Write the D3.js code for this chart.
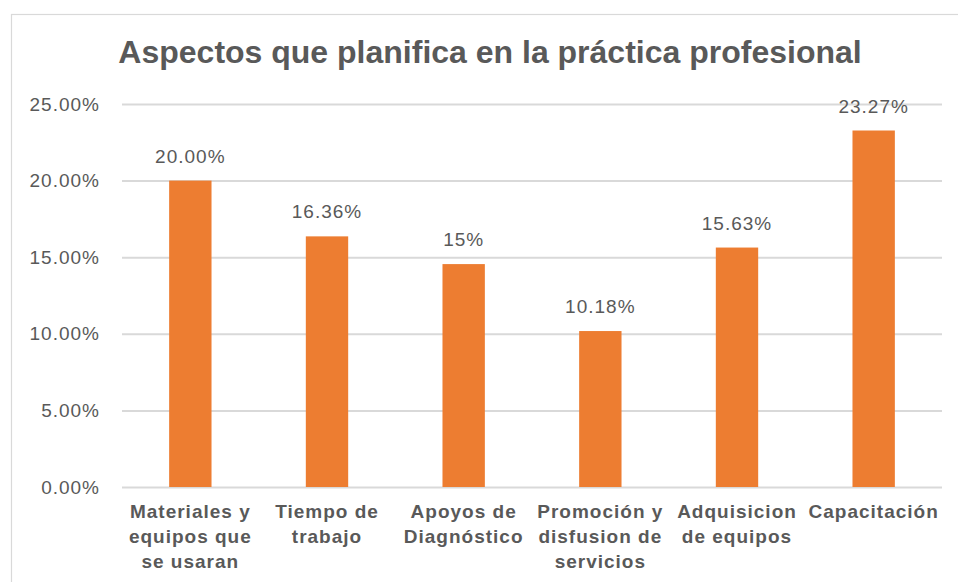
<!DOCTYPE html>
<html>
<head>
<meta charset="utf-8">
<script src="https://cdn.jsdelivr.net/npm/d3@7"></script>
<style>
  body { margin: 0; background: #fff; }
  svg { display: block; font-family: "Liberation Sans", Arial, sans-serif; }
</style>
</head>
<body>
<div id="chart"></div>
<script>
// data
var categories = [
  "Materiales y\nequipos que\nse usaran",
  "Tiempo de\ntrabajo",
  "Apoyos de\nDiagnóstico",
  "Promoción y\ndisfusion de\nservicios",
  "Adquisicion\nde equipos",
  "Capacitación"
];
var values = [20.00, 16.36, 14.55, 10.18, 15.63, 23.27];
var valueLabels = ["20.00%", "16.36%", "15%", "10.18%", "15.63%", "23.27%"];
var yTicks = [0, 5, 10, 15, 20, 25];
var yTickLabels = ["0.00%", "5.00%", "10.00%", "15.00%", "20.00%", "25.00%"];
var chartTitle = "Aspectos que planifica en la práctica profesional";

var w = 958, h = 582;
// plot area (named so they don't clash with window.top)
var plotL = 122, plotR = 942, plotT = 104, plotB = 487;
var grey = "#595959";

var svg = d3.select("#chart").append("svg")
    .attr("width", w)
    .attr("height", h);

// chart frame
svg.append("rect")
    .attr("x", 11.5).attr("y", 14.5)
    .attr("width", 980).attr("height", 600)
    .attr("fill", "#fff")
    .attr("stroke", "#d9d9d9")
    .attr("stroke-width", 1.2);

svg.append("text")
    .attr("x", 490).attr("y", 63)
    .attr("text-anchor", "middle")
    .attr("font-size", 32)
    .attr("font-weight", "bold")
    .attr("fill", grey)
    .text(chartTitle);

var x = d3.scaleBand()
    .domain(categories)
    .range([plotL, plotR])
    .paddingInner(0.69)
    .paddingOuter(0.345);

var y = d3.scaleLinear()
    .domain([0, 25])
    .range([plotB, plotT]);

// y axis + gridlines
var yAxis = svg.append("g")
    .attr("transform", "translate(" + plotL + ",0)")
    .call(d3.axisLeft(y)
        .tickValues(yTicks)
        .tickSize(-(plotR - plotL))
        .tickPadding(22)
        .tickFormat(function(d, i) { return yTickLabels[i]; }));
yAxis.select(".domain").remove();
yAxis.selectAll(".tick line")
    .attr("stroke", "#d9d9d9")
    .attr("stroke-width", 2);
yAxis.selectAll(".tick text")
    .attr("fill", grey)
    .attr("font-size", 19)
    .attr("letter-spacing", "1px")
    .attr("font-family", "Liberation Sans, Arial, sans-serif");

// bars
svg.selectAll("rect.bar")
    .data(values)
    .enter()
    .append("rect")
    .attr("class", "bar")
    .attr("x", function(d, i) { return x(categories[i]); })
    .attr("y", function(d) { return y(d); })
    .attr("width", x.bandwidth())
    .attr("height", function(d) { return y(0) - y(d); })
    .attr("fill", "#ed7d31");

// value labels
svg.selectAll("text.val")
    .data(values)
    .enter()
    .append("text")
    .attr("class", "val")
    .attr("x", function(d, i) { return x(categories[i]) + x.bandwidth() / 2; })
    .attr("y", function(d) { return y(d) - 18; })
    .attr("text-anchor", "middle")
    .attr("font-size", 19)
    .attr("letter-spacing", "1px")
    .attr("fill", grey)
    .text(function(d, i) { return valueLabels[i]; });

// category labels
var cat = svg.selectAll("text.cat")
    .data(categories)
    .enter()
    .append("text")
    .attr("class", "cat")
    .attr("text-anchor", "middle")
    .attr("font-size", 19)
    .attr("font-weight", "bold")
    .attr("letter-spacing", "1px")
    .attr("fill", grey);
cat.each(function(d) {
    var t = d3.select(this);
    var cx = x(d) + x.bandwidth() / 2;
    d.split("\n").forEach(function(line, j) {
        t.append("tspan")
            .attr("x", cx)
            .attr("y", 518 + j * 25)
            .text(line);
    });
});
</script>
</body>
</html>
